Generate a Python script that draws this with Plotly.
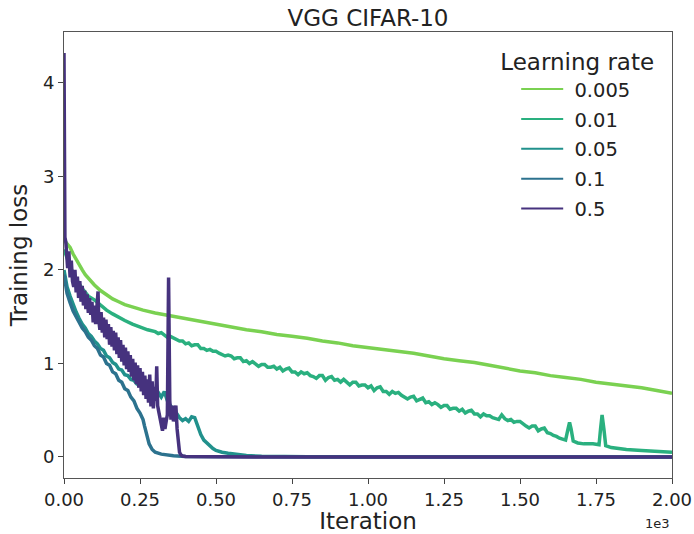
import plotly.graph_objects as go

# ---------------- data ----------------
labels = ["0.005", "0.01", "0.05", "0.1", "0.5"]
colors = ["#7ad151", "#2ab07f", "#21918c", "#2c728e", "#46327e"]

x_005 = [0, 10, 20, 30, 40, 50, 60, 70, 80, 90, 100, 120, 140, 160, 180, 200, 230, 260, 300, 350, 400,
         450, 500, 550, 600, 650, 700, 750, 800, 850, 900, 950, 1000, 1050, 1100, 1150, 1200, 1250, 1300,
         1350, 1400, 1450, 1500, 1550, 1600, 1650, 1700, 1750, 1800, 1850, 1900, 1950, 2000]
y_005 = [2.32, 2.28, 2.24, 2.17, 2.11, 2.05, 2.00, 1.95, 1.91, 1.87, 1.84, 1.78, 1.73, 1.69, 1.66, 1.63,
         1.60, 1.57, 1.54, 1.51, 1.48, 1.45, 1.42, 1.39, 1.36, 1.34, 1.31, 1.29, 1.27, 1.24, 1.22, 1.19,
         1.17, 1.15, 1.13, 1.11, 1.08, 1.05, 1.03, 1.01, 0.98, 0.95, 0.92, 0.90, 0.87, 0.85, 0.83, 0.80,
         0.78, 0.76, 0.74, 0.71, 0.68]

x_01_head = [0, 10, 20, 30, 40, 50, 60, 80, 100, 120, 140, 160, 180, 200, 225, 250, 275]
y_01_head = [2.22, 2.12, 2.04, 1.96, 1.90, 1.85, 1.80, 1.72, 1.68, 1.62, 1.57, 1.53, 1.49, 1.46, 1.42,
             1.39, 1.36]
# 300 .. 1590 every 10 iterations
x_01_mid = list(range(300, 1600, 10))
y_01_mid = [1.34, 1.32, 1.33, 1.30, 1.28, 1.29, 1.27, 1.25, 1.24, 1.24,
            1.21, 1.22, 1.19, 1.20, 1.20, 1.16, 1.16, 1.14, 1.15, 1.13,
            1.13, 1.11, 1.09, 1.08, 1.09, 1.08, 1.05, 1.06, 1.06, 1.02,
            1.03, 1.00, 1.02, 1.00, 0.97, 0.99, 0.99, 0.96, 0.96, 0.97,
            0.94, 0.96, 0.92, 0.94, 0.95, 0.91, 0.91, 0.88, 0.91, 0.89,
            0.90, 0.87, 0.86, 0.84, 0.87, 0.87, 0.82, 0.85, 0.86, 0.82,
            0.83, 0.80, 0.83, 0.80, 0.77, 0.80, 0.80, 0.76, 0.77, 0.77,
            0.74, 0.76, 0.71, 0.74, 0.75, 0.70, 0.70, 0.67, 0.70, 0.68,
            0.69, 0.66, 0.64, 0.62, 0.64, 0.65, 0.60, 0.62, 0.63, 0.58,
            0.59, 0.56, 0.58, 0.56, 0.53, 0.55, 0.55, 0.51, 0.52, 0.52,
            0.49, 0.51, 0.47, 0.49, 0.50, 0.46, 0.46, 0.43, 0.46, 0.44,
            0.44, 0.42, 0.41, 0.40, 0.45, 0.41, 0.39, 0.40, 0.37, 0.38,
            0.38, 0.35, 0.33, 0.31, 0.33, 0.33, 0.28, 0.30, 0.31, 0.26]
x_01_tail = [1600, 1610, 1620, 1630, 1640, 1650, 1658, 1663, 1668, 1675, 1690, 1710, 1740, 1760, 1765,
             1770, 1776, 1782, 1800, 1850, 1900, 1950, 2000]
y_01_tail = [0.25, 0.23, 0.22, 0.20, 0.19, 0.18, 0.30, 0.37, 0.30, 0.17, 0.15, 0.14, 0.14, 0.13, 0.30,
             0.45, 0.30, 0.12, 0.10, 0.08, 0.07, 0.06, 0.05]
x_01 = x_01_head + x_01_mid + x_01_tail
y_01 = y_01_head + y_01_mid + y_01_tail

x_05 = [0, 5, 10, 20, 30, 40, 50, 60, 70, 80, 90, 100, 110, 120, 130, 140, 150, 160, 170, 180, 190, 200,
        210, 220, 230, 240, 250, 260, 270, 280, 290, 300, 310, 320, 330, 340, 350, 360, 370, 380, 390,
        400, 410, 420, 430, 440, 450, 460, 470, 480, 490, 500, 520, 540, 560, 580, 600, 650, 700, 800,
        1000, 1500, 2000]
y_05 = [2.00, 1.90, 1.82, 1.72, 1.62, 1.55, 1.48, 1.42, 1.38, 1.32, 1.29, 1.24, 1.21, 1.16, 1.14, 1.08,
        1.06, 1.01, 0.99, 0.94, 0.93, 0.88, 0.87, 0.83, 0.82, 0.78, 0.77, 0.74, 0.73, 0.70, 0.71, 0.67,
        0.69, 0.64, 0.70, 0.60, 0.55, 0.50, 0.47, 0.42, 0.39, 0.41, 0.38, 0.43, 0.42, 0.33, 0.24, 0.18,
        0.15, 0.11, 0.09, 0.07, 0.05, 0.04, 0.03, 0.02, 0.015, 0.008, 0.004, 0.002, 0.001, 0.0, 0.0]

x_1 = [0, 5, 10, 20, 30, 40, 50, 60, 70, 80, 90, 100, 110, 120, 130, 140, 150, 160, 170, 180, 190, 200,
       210, 220, 230, 240, 250, 260, 265, 270, 275, 280, 290, 300, 320, 340, 360, 400, 500, 700, 1000, 2000]
y_1 = [1.95, 1.85, 1.75, 1.65, 1.56, 1.50, 1.44, 1.38, 1.34, 1.28, 1.25, 1.19, 1.16, 1.09, 1.07, 1.00,
       0.98, 0.91, 0.89, 0.82, 0.80, 0.73, 0.71, 0.64, 0.60, 0.52, 0.47, 0.40, 0.33, 0.26, 0.19, 0.14,
       0.08, 0.05, 0.03, 0.02, 0.012, 0.006, 0.002, 0.001, 0.0, 0.0]

x_5 = [0, 3, 6, 8, 12, 16, 20, 24, 28, 32, 36, 40, 44, 48, 52, 56, 60, 64, 68, 72, 76, 80, 84, 88, 92,
       96, 100, 104, 108, 112, 114, 118, 122, 126, 130, 134, 138, 142, 146, 150, 154, 158, 162, 166,
       170, 174, 178, 182, 186, 190, 194, 198, 202, 206, 210, 214, 218, 222, 226, 230, 234, 238, 242,
       246, 250, 254, 258, 262, 266, 270, 274, 278, 282, 286, 290, 294, 298, 302, 305, 308, 312, 316,
       320, 324, 328, 332, 336, 340, 344, 348, 352, 356, 360, 364, 368, 372, 376, 380, 385, 390, 400,
       450, 500, 2000]
y_5 = [4.32, 2.35, 2.30,
       2.22, 2.02, 2.20, 1.92, 2.10, 1.88, 1.82, 2.00, 1.76, 1.93, 1.70, 1.88, 1.66, 1.83, 1.62, 1.78,
       1.58, 1.74, 1.54, 1.70, 1.52, 1.66, 1.44, 1.62, 1.42, 1.58,
       1.77, 1.48,
       1.36, 1.55, 1.33, 1.49, 1.28, 1.47, 1.26, 1.42, 1.20, 1.39, 1.18, 1.35, 1.14, 1.33, 1.10, 1.28,
       1.06, 1.25, 1.02, 1.20, 0.98, 1.17, 0.94, 1.13, 0.91, 1.09, 0.86, 1.05, 0.82, 1.01, 0.78, 0.98,
       0.74, 0.95, 0.70, 0.91, 0.66, 0.87, 0.62, 0.83, 0.58, 0.88, 0.54, 0.81, 0.52, 0.75,
       0.60, 0.97, 0.55, 0.48, 0.42, 0.35, 0.28, 0.42, 0.30, 0.38, 0.45, 1.92, 0.60, 0.40, 0.55, 0.38,
       0.50, 0.55, 0.30, 0.12, 0.05, 0.02, 0.01, 0.005, 0.002, 0.001, 0.0]

xs = [x_005, x_01, x_05, x_1, x_5]
ys = [y_005, y_01, y_05, y_1, y_5]

x_tickvals = [0, 250, 500, 750, 1000, 1250, 1500, 1750, 2000]
x_ticktext = ["0.00", "0.25", "0.50", "0.75", "1.00", "1.25", "1.50", "1.75", "2.00"]
y_tickvals = [0, 1, 2, 3, 4]

FONT = "DejaVu Sans"
fig = go.Figure()

for lab, col, xv, yv in zip(labels, colors, xs, ys):
    fig.add_trace(go.Scatter(x=xv, y=yv, mode="lines", line=dict(color=col, width=3.5),
                             showlegend=False, hoverinfo="skip"))

for lab, col in zip(labels, colors):
    fig.add_trace(go.Scatter(x=[None], y=[None], mode="lines", name="\u00a0" + lab,
                             line=dict(color=col, width=2), legendgroup=lab))

fig.update_layout(
    width=694, height=534,
    margin=dict(l=64, r=22, t=32, b=56),
    paper_bgcolor="white", plot_bgcolor="white",
    font=dict(family=FONT, color="#222"),
    title=dict(text="VGG CIFAR-10", font=dict(size=23, color="#222"),
               x=0.5, xref="paper", xanchor="center", y=1, yref="paper", yanchor="bottom",
               pad=dict(b=6)),
    legend=dict(
        title=dict(text="Learning rate", font=dict(size=23), side="top center"),
        font=dict(size=19.5),
        x=0.974, xanchor="right", y=0.982, yanchor="top",
        bgcolor="rgba(0,0,0,0)", borderwidth=0,
        tracegroupgap=1.5, itemwidth=42, indentation=18,
    ),
    xaxis=dict(range=[0, 2000], tickvals=x_tickvals, ticktext=x_ticktext, automargin=False,
               showgrid=False, zeroline=False, showline=True, linecolor="#555", linewidth=1,
               mirror=True, ticks="outside", ticklen=5, tickcolor="#444",
               tickfont=dict(size=18),
               title=dict(text="Iteration", font=dict(size=23), standoff=4)),
    yaxis=dict(range=[-0.225, 4.545], tickvals=y_tickvals, automargin=False,
               showgrid=False, zeroline=False, showline=True, linecolor="#555", linewidth=1,
               mirror=True, ticks="outside", ticklen=5, tickcolor="#444",
               tickfont=dict(size=18),
               title=dict(text="Training loss", font=dict(size=23), standoff=8)),
)

fig.add_annotation(text="1e3", xref="paper", yref="paper", x=1.0, y=0, xanchor="right",
                   yanchor="top", yshift=-36, showarrow=False, font=dict(size=13, color="#222"))

fig.write_html("out.html")
